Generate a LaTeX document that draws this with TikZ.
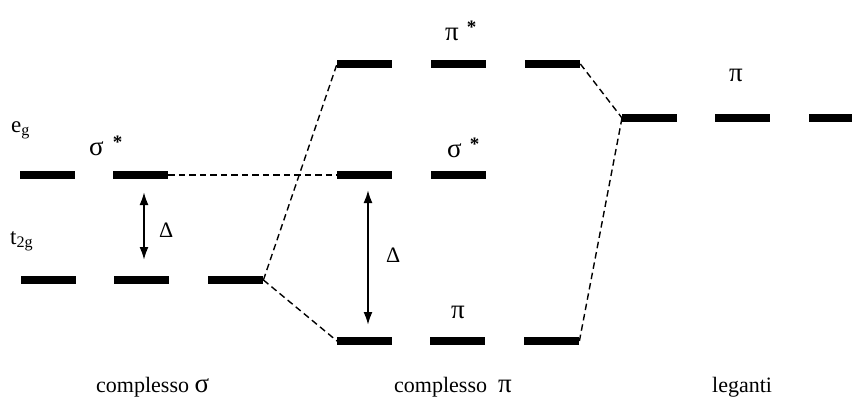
\documentclass[tikz,border=0pt]{standalone}
\usepackage{fontspec}
\setmainfont{Liberation Serif}
\usetikzlibrary{arrows.meta}
\newcommand{\gk}[1]{{\fontsize{27}{30}\selectfont #1}}
\newcommand{\stt}{\raisebox{7pt}{\fontsize{19}{21}\selectfont\bfseries *}}
\begin{document}
\begin{tikzpicture}[x=1pt,y=-1pt,
  bar/.style={fill=black,inner sep=0pt,minimum width=55pt,minimum height=8.5pt,anchor=west},
  link/.style={dash pattern=on 6.5pt off 4pt,line width=1.4pt},
  gap/.style={{Latex[length=13pt,width=9pt]}-{Latex[length=13pt,width=9pt]},line width=2pt},
  lbl/.style={inner sep=0pt,anchor=base west,font=\fontsize{23}{26}\selectfont},
  dlbl/.style={inner sep=0pt,anchor=base west,font=\fontsize{22}{24}\selectfont}]
\useasboundingbox (0,0) rectangle (852,397);
% complesso sigma
\node[bar] (e1) at (20,175) {};
\node[bar] (e2) at (113,175) {};
\node[bar] (t1) at (21,280) {};
\node[bar] (t2) at (114,280) {};
\node[bar] (t3) at (208,280) {};
% complesso pi
\node[bar] (ps1) at (337,64) {};
\node[bar] (ps2) at (431,64) {};
\node[bar] (ps3) at (525,64) {};
\node[bar] (ss1) at (337,175) {};
\node[bar] (ss2) at (431,175) {};
\node[bar] (pi1) at (337,341) {};
\node[bar] (pi2) at (430,341) {};
\node[bar] (pi3) at (524,341) {};
% leganti
\node[bar] (l1) at (622,118) {};
\node[bar] (l2) at (715,118) {};
\node[bar,minimum width=43pt] (l3) at (809,118) {};
% dashed correlations
\draw[link] (e2.east) -- (ss1.west);
\draw[link] (t3.east) -- (ps1.west);
\draw[link] (t3.east) -- (pi1.west);
\draw[link] (ps3.east) -- (l1.west);
\draw[link] (pi3.east) -- (l1.west);
% splitting arrows
\coordinate (d1a) at (144,192);
\coordinate (d1b) at (144,260);
\coordinate (d2a) at (368,190);
\coordinate (d2b) at (368,325);
\draw[gap] (d1a) -- (d1b);
\draw[gap] (d2a) -- (d2b);
% labels
\node[lbl] (eg) at (11,132) {e\textsubscript{g}};
\node[lbl] (t2g) at (10,244) {t\textsubscript{2g}};
\node[lbl] (sgs) at (89,155) {\gk{σ}\hspace{9pt}\stt};
\node[lbl] (sgs2) at (447,157) {\gk{σ}\hspace{8pt}\stt};
\node[lbl] (pis) at (445,40) {\gk{π}\hspace{8pt}\stt};
\node[lbl] (pib) at (451,318) {\gk{π}};
\node[lbl] (pil) at (729,81) {\gk{π}};
\node[dlbl] (dl1) at (159,237) {Δ};
\node[dlbl] (dl2) at (386,262) {Δ};
\node[lbl,font=\fontsize{22}{26}\selectfont] (c1) at (96,392) {complesso \gk{σ}};
\node[lbl,font=\fontsize{22}{26}\selectfont] (c2) at (394,392) {complesso\ \ \gk{π}};
\node[lbl,font=\fontsize{22}{26}\selectfont] (c3) at (712,392) {leganti};
\end{tikzpicture}
\end{document}
